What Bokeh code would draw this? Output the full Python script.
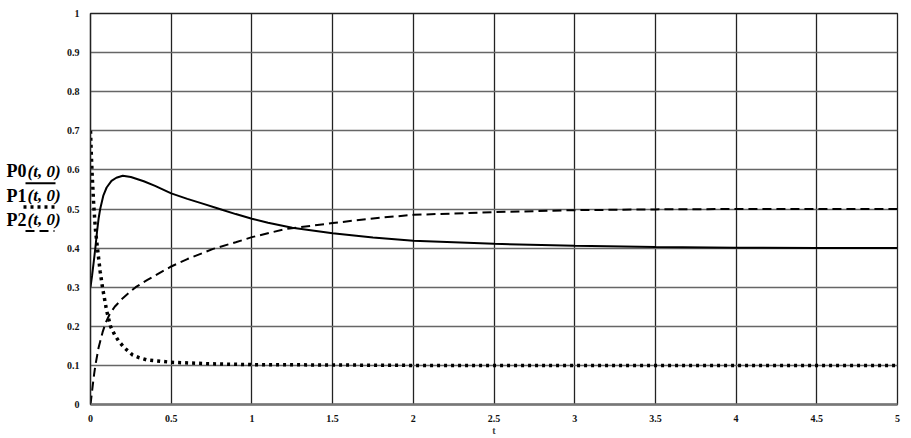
from bokeh.plotting import figure
from bokeh.models import Range1d, FixedTicker
from bokeh.layouts import row
from bokeh.core.properties import value
from bokeh.embed import file_html
from bokeh.resources import INLINE

# ---- data ----
t_p0 = [0, 0.01, 0.02, 0.03, 0.04, 0.05, 0.06, 0.08, 0.1, 0.13, 0.16, 0.2, 0.25, 0.33, 0.4,
        0.5, 0.6, 0.7, 0.8, 0.9, 1.0, 1.1, 1.25, 1.5, 1.75, 2.0, 2.5, 3.0, 3.5, 4.0, 4.5, 5.0]
p0 = [0.3, 0.33, 0.365, 0.4, 0.44, 0.475, 0.5, 0.535, 0.555, 0.572, 0.58, 0.585, 0.582, 0.571, 0.559,
      0.54, 0.526, 0.513, 0.5, 0.487, 0.475, 0.465, 0.452, 0.438, 0.427, 0.419, 0.411, 0.406, 0.403,
      0.401, 0.4, 0.4]

t_p1 = [0, 0.005, 0.01, 0.02, 0.03, 0.043, 0.06, 0.074, 0.1, 0.124, 0.15, 0.175, 0.21, 0.26, 0.3,
        0.35, 0.5, 0.75, 1.0, 1.5, 2.0, 3.0, 4.0, 5.0]
p1 = [0.7, 0.64, 0.59, 0.51, 0.45, 0.4, 0.34, 0.3, 0.24, 0.2, 0.178, 0.162, 0.145, 0.127, 0.12,
      0.114, 0.108, 0.104, 0.102, 0.101, 0.1, 0.1, 0.1, 0.1]

t_p2 = [0, 0.01, 0.02, 0.03, 0.05, 0.075, 0.095, 0.12, 0.15, 0.2, 0.25, 0.28, 0.35, 0.5, 0.6, 0.76,
        0.9, 1.0, 1.21, 1.5, 1.75, 2.0, 2.5, 3.0, 3.5, 4.0, 5.0]
p2 = [0, 0.035, 0.07, 0.1, 0.145, 0.185, 0.21, 0.232, 0.25, 0.272, 0.29, 0.3, 0.318, 0.353, 0.372,
      0.398, 0.415, 0.428, 0.449, 0.464, 0.476, 0.485, 0.492, 0.497, 0.499, 0.5, 0.5]

x_ticks = [0, 0.5, 1, 1.5, 2, 2.5, 3, 3.5, 4, 4.5, 5]
x_tick_labels = ["0", "0.5", "1", "1.5", "2", "2.5", "3", "3.5", "4", "4.5", "5"]
y_ticks = [0, 0.1, 0.2, 0.3, 0.4, 0.5, 0.6, 0.7, 0.8, 0.9, 1]
y_tick_labels = ["0", "0.1", "0.2", "0.3", "0.4", "0.5", "0.6", "0.7", "0.8", "0.9", "1"]

legend_names = ["P0", "P1", "P2"]
legend_args = ["(t, 0)", "(t, 0)", "(t, 0)"]
x_label = "t"

H = 438
TOP = 13
BOTTOM = 31
LEG_W = 62

# ---- legend panel (Mathcad style, left of the axis) ----
leg = figure(width=LEG_W, height=H, output_backend="svg", toolbar_location=None,
             x_range=Range1d(0, LEG_W), y_range=Range1d(0, 1),
             min_border_left=0, min_border_right=0, min_border_top=TOP, min_border_bottom=BOTTOM)
leg.axis.visible = False
leg.grid.visible = False
leg.outline_line_color = None
leg.background_fill_color = "white"
leg.border_fill_color = "white"

leg_y = [0.597, 0.534, 0.473]
sample_y = [0.566, 0.505, 0.444]
leg.text(x=[6] * 3, y=leg_y, text=legend_names, text_font=value("Liberation Serif"),
         text_font_style="bold", text_font_size="18px", text_baseline="middle", text_color="black")
leg.text(x=[27] * 3, y=leg_y, text=legend_args, text_font=value("Liberation Serif"),
         text_font_style="bold italic", text_font_size="17px", text_baseline="middle", text_color="black")
leg.line([25, 55], [sample_y[0]] * 2, line_color="black", line_width=2)
leg.line([23, 54], [sample_y[1]] * 2, line_color="black", line_width=3.5, line_dash="3 4")
leg.line([25, 54], [sample_y[2]] * 2, line_color="black", line_width=2, line_dash="9 5")

# ---- main plot ----
p = figure(width=905 - LEG_W, height=H, output_backend="svg", toolbar_location=None,
           x_range=Range1d(0, 5), y_range=Range1d(0, 1),
           min_border_left=90 - LEG_W, min_border_right=8, min_border_top=TOP,
           min_border_bottom=BOTTOM)
p.background_fill_color = "white"
p.border_fill_color = "white"
p.outline_line_color = "#222222"
p.outline_line_width = 1.3

p.xaxis.ticker = FixedTicker(ticks=x_ticks)
p.yaxis.ticker = FixedTicker(ticks=y_ticks)
p.xaxis.major_label_overrides = {k: v for k, v in zip(x_ticks, x_tick_labels)}
p.yaxis.major_label_overrides = {k: v for k, v in zip(y_ticks, y_tick_labels)}
for ax in (p.xaxis, p.yaxis):
    ax.major_tick_line_color = None
    ax.minor_tick_line_color = None
    ax.major_label_text_font = "Liberation Serif"
    ax.major_label_text_font_style = "bold"
    ax.major_label_text_font_size = "10px"
    ax.major_label_text_color = "#111111"
    ax.major_label_standoff = 5
p.xaxis.major_label_standoff = 4
p.yaxis.axis_line_color = "#222222"
p.yaxis.axis_line_width = 1.3
p.xaxis.axis_line_color = "#777777"
p.xaxis.axis_line_width = 2.5
p.xaxis.axis_label = x_label
p.xaxis.axis_label_text_font = "Liberation Serif"
p.xaxis.axis_label_text_font_style = "bold"
p.xaxis.axis_label_text_font_size = "10px"
p.xaxis.axis_label_standoff = 0

p.xgrid.grid_line_color = "#222222"
p.xgrid.grid_line_width = 1.3
p.ygrid.grid_line_color = "#666666"
p.ygrid.grid_line_width = 1.3

p.line(t_p0, p0, line_color="black", line_width=2)
p.line(t_p1, p1, line_color="black", line_width=3.5, line_dash="3 4")
p.line(t_p2, p2, line_color="black", line_width=2, line_dash="9 5")

layout = row(leg, p)
open("out.html", "w").write(file_html(layout, INLINE))
